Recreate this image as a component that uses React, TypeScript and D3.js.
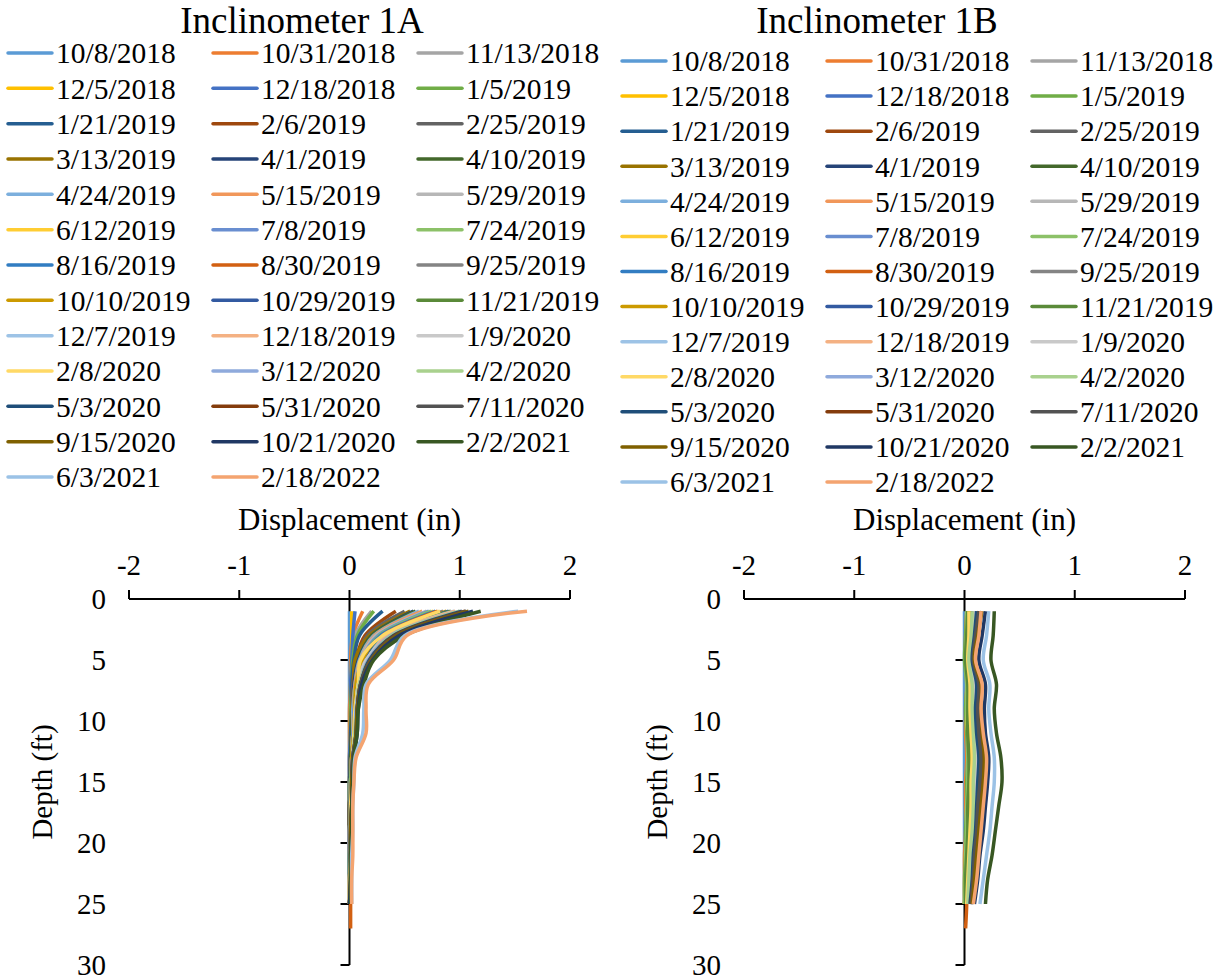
import React, { useEffect, useRef } from "react";
import * as d3 from "d3";

const width = 1226;
const height = 979;

const dates = [
  "10/8/2018", "10/31/2018", "11/13/2018",
  "12/5/2018", "12/18/2018", "1/5/2019",
  "1/21/2019", "2/6/2019", "2/25/2019",
  "3/13/2019", "4/1/2019", "4/10/2019",
  "4/24/2019", "5/15/2019", "5/29/2019",
  "6/12/2019", "7/8/2019", "7/24/2019",
  "8/16/2019", "8/30/2019", "9/25/2019",
  "10/10/2019", "10/29/2019", "11/21/2019",
  "12/7/2019", "12/18/2019", "1/9/2020",
  "2/8/2020", "3/12/2020", "4/2/2020",
  "5/3/2020", "5/31/2020", "7/11/2020",
  "9/15/2020", "10/21/2020", "2/2/2021",
  "6/3/2021", "2/18/2022",
];

const colors = [
  "#5B9BD5", "#ED7D31", "#A5A5A5",
  "#FFC000", "#4472C4", "#70AD47",
  "#255E91", "#9E480E", "#636363",
  "#997300", "#264478", "#43682B",
  "#7CAFDD", "#F1975A", "#B7B7B7",
  "#FFCD33", "#698ED0", "#8CC168",
  "#327DC2", "#D26012", "#848484",
  "#CC9A00", "#335AA1", "#5A8A39",
  "#9DC3E6", "#F4B183", "#C9C9C9",
  "#FFD966", "#8FAADC", "#A9D18E",
  "#1F4E79", "#843C0C", "#525252",
  "#7F6000", "#203864", "#385723",
  "#9BC2E6", "#F4A470",
];

// depth of each reading (ft)
const depths = [1, 3, 5, 7, 9, 11, 13, 15, 17, 19, 21, 23, 25, 27];
const xTicks = [-2, -1, 0, 1, 2];
const yTicks = [0, 5, 10, 15, 20, 25, 30];

// Inclinometer 1A displacement (in)
const data1A = [
  [0, 0, 0, 0, 0, 0, 0, 0, 0, 0, 0, 0, 0],
  [0.12, 0.03, 0.01, 0.01, 0, 0, 0, 0, 0, 0, 0, 0, 0],
  [0.2, 0.05, 0.02, 0.01, 0.01, 0.01, 0, 0, 0, 0, 0, 0, 0],
  [0.02, 0.02, 0.02, 0.01, 0.01, 0.01, 0.01, 0, 0, 0, 0, 0, 0],
  [0.05, 0.03, 0.02, 0.01, 0.01, 0.01, 0, 0, 0, 0, 0, 0, 0],
  [0.22, 0.07, 0.03, 0.02, 0.01, 0.01, 0.01, 0, 0, 0, 0, 0, 0],
  [0.3, 0.09, 0.04, 0.02, 0.02, 0.01, 0.01, 0, 0, 0, 0, 0, 0],
  [0.42, 0.14, 0.06, 0.03, 0.02, 0.02, 0.01, 0.01, 0, 0, 0, 0, 0],
  [0.5, 0.16, 0.07, 0.03, 0.02, 0.02, 0.01, 0.01, 0, 0, 0, 0, 0],
  [0.55, 0.18, 0.05, 0.04, 0.02, 0.02, 0.01, 0.01, 0, 0, 0, 0, 0],
  [0.58, 0.2, 0.08, 0.04, 0.03, 0.02, 0.01, 0.01, 0, 0, 0, 0, 0],
  [0.6, 0.2, 0.09, 0.05, 0.03, 0.02, 0.01, 0.01, 0.01, 0, 0, 0, 0],
  [0.63, 0.22, 0.09, 0.05, 0.03, 0.03, 0.02, 0.01, 0.01, 0, 0, 0, 0],
  [0.66, 0.23, 0.1, 0.05, 0.04, 0.03, 0.02, 0.01, 0.01, 0, 0, 0, 0],
  [0.7, 0.24, 0.1, 0.06, 0.04, 0.03, 0.02, 0.01, 0.01, 0, 0, 0, 0],
  [0.76, 0.27, 0.12, 0.06, 0.04, 0.03, 0.02, 0.01, 0.01, 0.01, 0, 0, 0],
  [0.72, 0.26, 0.11, 0.06, 0.04, 0.03, 0.02, 0.01, 0.01, 0, 0, 0, 0],
  [0.74, 0.27, 0.12, 0.06, 0.05, 0.04, 0.02, 0.01, 0.01, 0.01, 0, 0, 0],
  [0.78, 0.28, 0.12, 0.07, 0.05, 0.04, 0.02, 0.02, 0.01, 0.01, 0, 0, 0],
  [0.8, 0.3, 0.14, 0.07, 0.05, 0.04, 0.02, 0.02, 0.01, 0.01, 0.01, 0.01, 0.01, 0.01],
  [0.85, 0.3, 0.13, 0.07, 0.05, 0.04, 0.02, 0.02, 0.01, 0.01, 0.01, 0, 0],
  [0.88, 0.31, 0.12, 0.06, 0.05, 0.04, 0.02, 0.02, 0.01, 0.01, 0.01, 0, 0],
  [0.9, 0.32, 0.15, 0.08, 0.06, 0.05, 0.03, 0.02, 0.01, 0.01, 0.01, 0, 0],
  [0.92, 0.33, 0.16, 0.08, 0.06, 0.05, 0.03, 0.02, 0.01, 0.01, 0.01, 0, 0],
  [0.95, 0.34, 0.16, 0.08, 0.06, 0.05, 0.03, 0.02, 0.02, 0.01, 0.01, 0, 0],
  [0.96, 0.35, 0.17, 0.09, 0.06, 0.05, 0.03, 0.02, 0.02, 0.01, 0.01, 0, 0],
  [1.05, 0.4, 0.15, 0.08, 0.06, 0.05, 0.03, 0.02, 0.02, 0.01, 0.01, 0, 0],
  [0.82, 0.3, 0.1, 0.08, 0.05, 0.04, 0.03, 0.02, 0.01, 0.01, 0.01, 0, 0],
  [1.0, 0.37, 0.17, 0.09, 0.06, 0.05, 0.03, 0.02, 0.02, 0.01, 0.01, 0.01, 0],
  [1.0, 0.38, 0.18, 0.09, 0.07, 0.05, 0.03, 0.02, 0.02, 0.01, 0.01, 0.01, 0],
  [1.02, 0.4, 0.18, 0.1, 0.07, 0.06, 0.03, 0.02, 0.02, 0.01, 0.01, 0.01, 0],
  [1.05, 0.41, 0.19, 0.1, 0.07, 0.06, 0.03, 0.02, 0.02, 0.01, 0.01, 0.01, 0],
  [1.06, 0.42, 0.19, 0.1, 0.07, 0.06, 0.03, 0.02, 0.02, 0.01, 0.01, 0.01, 0],
  [1.08, 0.43, 0.2, 0.11, 0.07, 0.06, 0.04, 0.02, 0.02, 0.01, 0.01, 0.01, 0],
  [1.12, 0.45, 0.21, 0.11, 0.08, 0.07, 0.04, 0.03, 0.02, 0.02, 0.01, 0.01, 0],
  [1.19, 0.5, 0.22, 0.13, 0.08, 0.07, 0.04, 0.03, 0.02, 0.02, 0.01, 0.01, 0.01],
  [1.53, 0.5, 0.37, 0.15, 0.13, 0.12, 0.05, 0.04, 0.03, 0.03, 0.02, 0.02, 0.02],
  [1.61, 0.52, 0.4, 0.17, 0.15, 0.15, 0.06, 0.04, 0.03, 0.03, 0.03, 0.02, 0.02],
];

// Inclinometer 1B displacement (in)
const data1B = [
  [0, 0, 0, 0, 0, 0, 0, 0, 0, 0, 0, 0, 0],
  [0.02, 0.01, 0.01, 0.02, 0.01, 0.01, 0.02, 0.01, 0.01, 0.01, 0, 0, 0],
  [0.03, 0.02, 0.02, 0.03, 0.02, 0.02, 0.03, 0.02, 0.02, 0.01, 0.01, 0.01, 0],
  [0.03, 0.02, 0.01, 0.03, 0.02, 0.03, 0.03, 0.03, 0.02, 0.02, 0.01, 0.01, 0],
  [0.04, 0.03, 0.02, 0.04, 0.03, 0.03, 0.04, 0.04, 0.03, 0.02, 0.02, 0.01, 0.01],
  [0.02, 0.01, 0, 0.02, 0.01, 0.02, 0.03, 0.02, 0.02, 0.01, 0.01, 0, 0],
  [0.05, 0.03, 0.02, 0.05, 0.04, 0.05, 0.06, 0.05, 0.04, 0.03, 0.02, 0.02, 0.01],
  [0.06, 0.04, 0.03, 0.06, 0.05, 0.06, 0.07, 0.07, 0.05, 0.04, 0.03, 0.02, 0.01],
  [0.07, 0.05, 0.03, 0.07, 0.06, 0.07, 0.08, 0.07, 0.06, 0.05, 0.04, 0.03, 0.02],
  [0.1, 0.07, 0.05, 0.1, 0.09, 0.1, 0.12, 0.11, 0.09, 0.08, 0.06, 0.05, 0.04],
  [0.06, 0.05, 0.03, 0.07, 0.06, 0.07, 0.08, 0.08, 0.07, 0.06, 0.05, 0.04, 0.03],
  [0.05, 0.03, 0.02, 0.05, 0.04, 0.05, 0.07, 0.06, 0.05, 0.04, 0.03, 0.02, 0.02],
  [0.03, 0.02, 0.02, 0.04, 0.03, 0.04, 0.05, 0.05, 0.04, 0.03, 0.02, 0.02, 0.01],
  [0.13, 0.08, 0.03, 0.12, 0.12, 0.13, 0.15, 0.14, 0.12, 0.11, 0.09, 0.07, 0.05],
  [0.04, 0.03, 0.02, 0.04, 0.03, 0.04, 0.05, 0.04, 0.04, 0.03, 0.02, 0.02, 0.01],
  [0.03, 0.02, 0.02, 0.03, 0.02, 0.03, 0.04, 0.04, 0.03, 0.03, 0.02, 0.01, 0.01],
  [0.06, 0.04, 0.03, 0.06, 0.05, 0.06, 0.07, 0.07, 0.06, 0.05, 0.04, 0.03, 0.02],
  [0.02, 0.02, 0.01, 0.02, 0.02, 0.03, 0.03, 0.03, 0.02, 0.02, 0.01, 0.01, 0],
  [0.07, 0.05, 0.04, 0.07, 0.06, 0.07, 0.09, 0.08, 0.07, 0.06, 0.05, 0.04, 0.03],
  [0.04, 0.03, 0.02, 0.05, 0.04, 0.05, 0.06, 0.05, 0.05, 0.04, 0.03, 0.02, 0.02, 0.01],
  [0.08, 0.06, 0.04, 0.08, 0.07, 0.08, 0.09, 0.09, 0.08, 0.07, 0.05, 0.04, 0.03],
  [0.05, 0.03, 0.02, 0.05, 0.04, 0.05, 0.06, 0.06, 0.05, 0.04, 0.03, 0.03, 0.02],
  [0.09, 0.07, 0.05, 0.09, 0.08, 0.09, 0.1, 0.1, 0.09, 0.08, 0.06, 0.05, 0.04],
  [0.03, 0.02, 0.01, 0.03, 0.03, 0.03, 0.04, 0.04, 0.03, 0.03, 0.02, 0.01, 0.01],
  [0.1, 0.08, 0.06, 0.1, 0.09, 0.1, 0.12, 0.11, 0.1, 0.09, 0.07, 0.06, 0.04],
  [0.11, 0.08, 0.06, 0.11, 0.1, 0.11, 0.13, 0.12, 0.11, 0.1, 0.08, 0.06, 0.05],
  [0.09, 0.07, 0.05, 0.09, 0.08, 0.09, 0.11, 0.1, 0.09, 0.08, 0.06, 0.05, 0.04],
  [0.04, 0.04, 0.03, 0.05, 0.05, 0.06, 0.07, 0.06, 0.06, 0.05, 0.04, 0.03, 0.02],
  [0.12, 0.09, 0.07, 0.12, 0.11, 0.12, 0.14, 0.13, 0.12, 0.1, 0.09, 0.07, 0.05],
  [0.07, 0.06, 0.04, 0.07, 0.07, 0.08, 0.09, 0.08, 0.08, 0.07, 0.05, 0.04, 0.03],
  [0.11, 0.09, 0.07, 0.11, 0.1, 0.11, 0.13, 0.12, 0.11, 0.1, 0.08, 0.07, 0.05],
  [0.14, 0.11, 0.09, 0.14, 0.13, 0.14, 0.16, 0.15, 0.13, 0.12, 0.1, 0.08, 0.06],
  [0.13, 0.1, 0.08, 0.13, 0.12, 0.13, 0.15, 0.14, 0.12, 0.11, 0.09, 0.08, 0.06],
  [0.16, 0.12, 0.09, 0.15, 0.15, 0.16, 0.18, 0.17, 0.15, 0.13, 0.11, 0.09, 0.07],
  [0.19, 0.16, 0.13, 0.19, 0.18, 0.19, 0.22, 0.21, 0.19, 0.17, 0.14, 0.12, 0.09],
  [0.27, 0.26, 0.24, 0.29, 0.27, 0.29, 0.33, 0.34, 0.31, 0.28, 0.25, 0.21, 0.19],
  [0.22, 0.2, 0.17, 0.23, 0.22, 0.24, 0.27, 0.27, 0.25, 0.23, 0.2, 0.17, 0.14],
  [0.15, 0.13, 0.1, 0.16, 0.15, 0.17, 0.2, 0.19, 0.17, 0.15, 0.13, 0.11, 0.08],
];

const font = "'Liberation Serif', 'Times New Roman', serif";

const panels = [
  { title: "Inclinometer 1A", values: data1A, left: 129, titleX: 302, legendX: 8, legendY: 53, rowStep: 35.33 },
  { title: "Inclinometer 1B", values: data1B, left: 744, titleX: 877, legendX: 622, legendY: 61, rowStep: 35.08 },
];

export default function App() {
  const ref = useRef<SVGSVGElement>(null);

  useEffect(() => {
    const svg = d3.select(ref.current);
    svg.selectAll("*").remove();

    panels.forEach(p => {
      const g = svg.append("g").attr("font-family", font).attr("fill", "#000");

      const x = d3.scaleLinear().domain([-2, 2]).range([p.left, p.left + 441]);
      const y = d3.scaleLinear().domain([0, 30]).range([599, 965]);

      // title
      g.append("text")
        .attr("x", p.titleX)
        .attr("y", 33)
        .attr("text-anchor", "middle")
        .attr("font-size", 37)
        .text(p.title);

      // legend, 3 columns
      const leg = g.append("g");
      dates.forEach((d, i) => {
        const lx = p.legendX + (i % 3) * 205;
        const ly = p.legendY + Math.floor(i / 3) * p.rowStep;
        leg.append("line")
          .attr("x1", lx).attr("x2", lx + 44)
          .attr("y1", ly).attr("y2", ly)
          .attr("stroke", colors[i])
          .attr("stroke-width", 3.5)
          .attr("stroke-linecap", "round");
        leg.append("text")
          .attr("x", lx + 48)
          .attr("y", ly)
          .attr("dy", "0.35em")
          .attr("font-size", 29.5)
          .text(d);
      });

      // x axis (top)
      g.append("text")
        .attr("x", x(0))
        .attr("y", 530)
        .attr("text-anchor", "middle")
        .attr("font-size", 31)
        .text("Displacement (in)");

      g.append("line")
        .attr("x1", x(-2)).attr("x2", x(2))
        .attr("y1", y(0)).attr("y2", y(0))
        .attr("stroke", "#000").attr("stroke-width", 2);

      xTicks.forEach(t => {
        g.append("line")
          .attr("x1", x(t)).attr("x2", x(t))
          .attr("y1", y(0)).attr("y2", y(0) - 9)
          .attr("stroke", "#000").attr("stroke-width", 2);
        g.append("text")
          .attr("x", x(t))
          .attr("y", 575)
          .attr("text-anchor", "middle")
          .attr("font-size", 29)
          .text(t < 0 ? "-" + Math.abs(t) : String(t));
      });

      // y axis at x = 0, labels at low end
      g.append("line")
        .attr("x1", x(0)).attr("x2", x(0))
        .attr("y1", y(0)).attr("y2", y(30))
        .attr("stroke", "#000").attr("stroke-width", 2);

      yTicks.forEach(t => {
        g.append("line")
          .attr("x1", x(0) - 9).attr("x2", x(0))
          .attr("y1", y(t)).attr("y2", y(t))
          .attr("stroke", "#000").attr("stroke-width", 2);
        g.append("text")
          .attr("x", x(-2) - 23)
          .attr("y", y(t))
          .attr("dy", "0.35em")
          .attr("text-anchor", "end")
          .attr("font-size", 29)
          .text(t);
      });

      g.append("text")
        .attr("transform", `translate(${p.left - 87},${y(15)}) rotate(-90)`)
        .attr("text-anchor", "middle")
        .attr("dy", "0.35em")
        .attr("font-size", 29)
        .text("Depth (ft)");

      // profiles
      const line = d3
        .line<number>()
        .curve(d3.curveCatmullRom.alpha(0.5))
        .x(v => x(v))
        .y((v, i) => y(depths[i]));

      g.append("g")
        .selectAll("path")
        .data(p.values)
        .join("path")
        .attr("fill", "none")
        .attr("stroke", (d, i) => colors[i])
        .attr("stroke-width", 3.5)
        .attr("stroke-linejoin", "round")
        .attr("d", d => line(d));
    });
  }, []);

  return (
    <svg
      ref={ref}
      width={width}
      height={height}
      viewBox={`0 0 ${width} ${height}`}
      style={{ position: "absolute", left: 0, top: 0, background: "#fff" }}
    ></svg>
  );
}
